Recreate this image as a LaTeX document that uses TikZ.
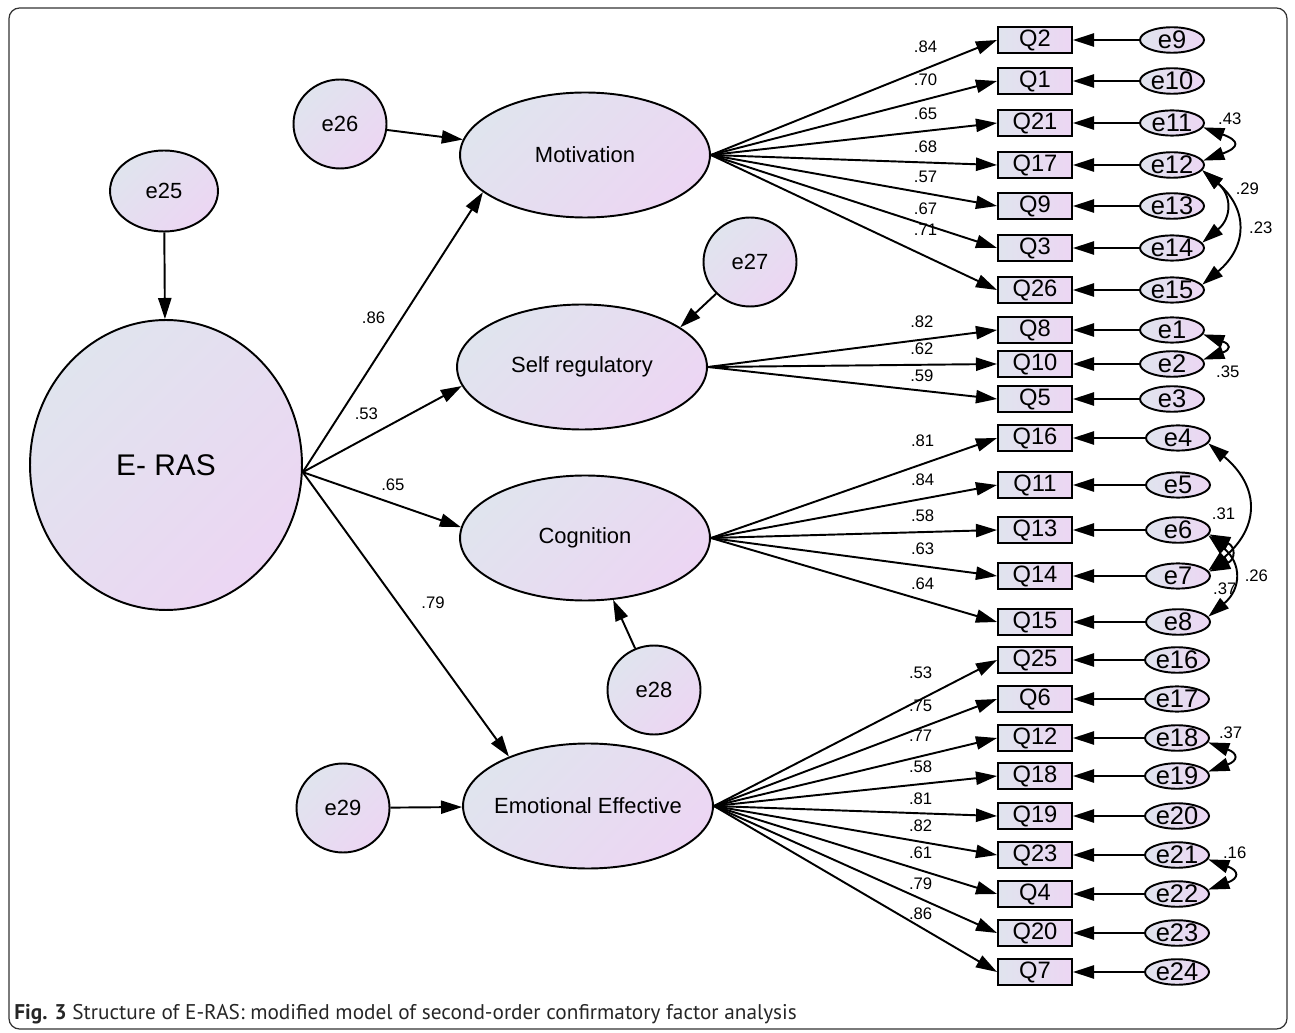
\documentclass[tikz,border=0pt]{standalone}
\usepackage{fontspec}
\setmainfont{Liberation Sans}
\newfontfamily\capfont{PT Sans}
\usetikzlibrary{arrows.meta,shapes.geometric,positioning}
\definecolor{amosA}{RGB}{224,228,238}
\definecolor{amosB}{RGB}{236,214,243}
\tikzset{
  lat/.style={ellipse,draw,line width=1.1pt,top color=amosA,bottom color=amosB,shading angle=45,
    inner sep=0pt,minimum width=5cm,minimum height=2.5cm,font=\fontsize{12.5}{14}\selectfont},
  res/.style={ellipse,draw,line width=1.1pt,top color=amosA,bottom color=amosB,shading angle=45,
    inner sep=0pt,minimum width=1.86cm,minimum height=1.78cm,font=\fontsize{12.5}{14}\selectfont},
  obs/.style={rectangle,draw,line width=1.1pt,left color=amosA,right color=amosB,
    inner sep=0pt,minimum width=1.48cm,minimum height=0.52cm,font=\fontsize{13.5}{14}\selectfont},
  err/.style={ellipse,draw,line width=1.1pt,left color=amosA,right color=amosB,
    inner sep=0pt,minimum width=1.28cm,minimum height=0.48cm,font=\fontsize{14.5}{14}\selectfont},
  arr/.style={->,line width=1.1pt},
  cov/.style={<->,line width=1.1pt},
  lbl/.style={inner sep=1pt,font=\fontsize{9.5}{10}\selectfont}
}
\begin{document}
\begin{tikzpicture}[x=0.02cm,y=-0.02cm,>={Triangle[length=12pt,width=7.5pt]}]
  \useasboundingbox (0,0) rectangle (1295,1033);
  \draw[line width=0.7pt,rounded corners=6pt,black!80] (9,8) rectangle (1287,1029);

  % second-order factor and the four first-order factors
  \node[lat,minimum width=5.44cm,minimum height=5.8cm,font=\fontsize{17}{20}\selectfont] (ERAS) at (166,465) {E- RAS};
  \node[res,minimum width=2.16cm,minimum height=1.62cm] (e25) at (164,191) {e25};
  \node[lat] (Mot) at (585,155) {Motivation};
  \node[lat] (Self) at (582,367) {Self regulatory};
  \node[lat] (Cog) at (585,538) {Cognition};
  \node[lat] (Emo) at (588,806) {\makebox[0pt]{Emotional Effective}};
  \node[res] (e26) at (340,124) {e26};
  \node[res] (e27) at (750,262) {e27};
  \node[res] (e28) at (654,690) {e28};
  \node[res] (e29) at (343,808) {e29};

  \draw[arr] (e25) -- (ERAS);
  \draw[arr] (e26) -- (Mot);
  \draw[arr] (e27) -- (Self.22);
  \draw[arr] (e28) -- (Cog);
  \draw[arr] (e29) -- (Emo);

  \draw[arr] (ERAS.-3) -- node[lbl,pos=.55,left=8pt] {.86} (Mot.200);
  \draw[arr] (ERAS.-3) -- node[lbl,pos=.4,above=9pt] {.53} (Self.189);
  \draw[arr] (ERAS.-3) -- node[lbl,pos=.57,above=6pt] {.65} (Cog.175);
  \draw[arr] (ERAS.-3) -- node[lbl,pos=.46,right=12pt] {.79} (Emo.148);

  % indicators and their errors
  \foreach \q/\y/\e/\w/\s in {Q2/40/e9/.84/7.7,Q1/81/e10/.70/6.3,Q21/123/e11/.65/4.8,Q17/165/e12/.68/4.3,
      Q9/206/e13/.57/4.3,Q3/248/e14/.67/4.3,Q26/290/e15/.71/10}{
    \node[obs] (\q) at (1035,\y) {\q};
    \node[err] (\e) at (1172,\y) {\e};
    \draw[arr] (\e) -- (\q);
    \draw[arr] (Mot.east) -- node[lbl,pos=.75,above=\s pt] {\w} (\q.west);
  }
  \foreach \q/\y/\e/\w/\s in {Q8/330/e1/.82/5.4,Q10/364/e2/.62/4.3,Q5/399/e3/.59/3.7}{
    \node[obs] (\q) at (1035,\y) {\q};
    \node[err] (\e) at (1172,\y) {\e};
    \draw[arr] (\e) -- (\q);
    \draw[arr] (Self.east) -- node[lbl,pos=.74,above=\s pt] {\w} (\q.west);
  }
  \foreach \q/\y/\e/\w/\s in {Q16/438/e4/.81/8.3,Q11/485/e5/.84/6,Q13/530/e6/.58/4.3,
      Q14/576/e7/.63/4.8,Q15/622/e8/.64/4.3}{
    \node[obs] (\q) at (1035,\y) {\q};
    \node[err] (\e) at (1178,\y) {\e};
    \draw[arr] (\e) -- (\q);
    \draw[arr] (Cog.east) -- node[lbl,pos=.74,above=\s pt] {\w} (\q.west);
  }
  \foreach \q/\y/\e/\w/\s in {Q25/660/e16/.53/10.5,Q6/699/e17/.75/7.7,Q12/738/e18/.77/7.1,
      Q18/776/e19/.58/4.9,Q19/816/e20/.81/3.2,Q23/855/e21/.82/4.3,Q4/894/e22/.61/4.9,
      Q20/933/e23/.79/3.7,Q7/972/e24/.86/2.6}{
    \node[obs] (\q) at (1035,\y) {\q};
    \node[err] (\e) at (1177,\y) {\e};
    \draw[arr] (\e) -- (\q);
    \draw[arr] (Emo.east) -- node[lbl,pos=.73,above=\s pt] {\w} (\q.west);
  }

  % error covariances
  \draw[cov] (e11.-8) to[out=-20,in=20,looseness=3] node[lbl,pos=0,anchor=west,xshift=7pt,yshift=5pt] {.43} (e12.8);
  \draw[cov] (e12.-10) to[out=-40,in=40,looseness=1.37] node[lbl,pos=.25,anchor=west,xshift=8pt] {.29} (e14.10);
  \draw[cov] (e12.-10) to[out=-40,in=40,looseness=1.34] node[lbl,pos=.5,anchor=west,xshift=5.6pt] {.23} (e15.10);
  \draw[cov] (e1.-8) to[out=-20,in=20,looseness=3] node[lbl,pos=1,anchor=west,xshift=5.8pt,yshift=-6.8pt] {.35} (e2.8);
  \draw[cov] (e4.-10) to[out=-40,in=40,looseness=1.36] node[lbl,pos=.55,anchor=east,xshift=-5pt] {.31} (e7.10);
  \draw[cov] (e6.-8) to[out=-25,in=25,looseness=2] node[lbl,pos=1,anchor=west,xshift=.7pt,yshift=-10pt] {.37} (e7.8);
  \draw[cov] (e6.-10) to[out=-40,in=40,looseness=1.37] node[lbl,pos=.5,anchor=west,xshift=5pt] {.26} (e8.10);
  \draw[cov] (e18.-8) to[out=-20,in=20,looseness=2.8] node[lbl,pos=0,anchor=west,xshift=4.6pt,yshift=5.7pt] {.37} (e19.8);
  \draw[cov] (e21.-8) to[out=-20,in=20,looseness=2.8] node[lbl,pos=0,anchor=west,xshift=6.9pt,yshift=4pt] {.16} (e22.8);

  \node[anchor=base west,inner sep=0pt,text=black!85,font=\capfont\fontsize{12.1}{14}\selectfont] (cap) at (14,1019)
    {\textbf{Fig. 3} Structure of E-RAS: modified model of second-order confirmatory factor analysis};
\end{tikzpicture}
\end{document}
